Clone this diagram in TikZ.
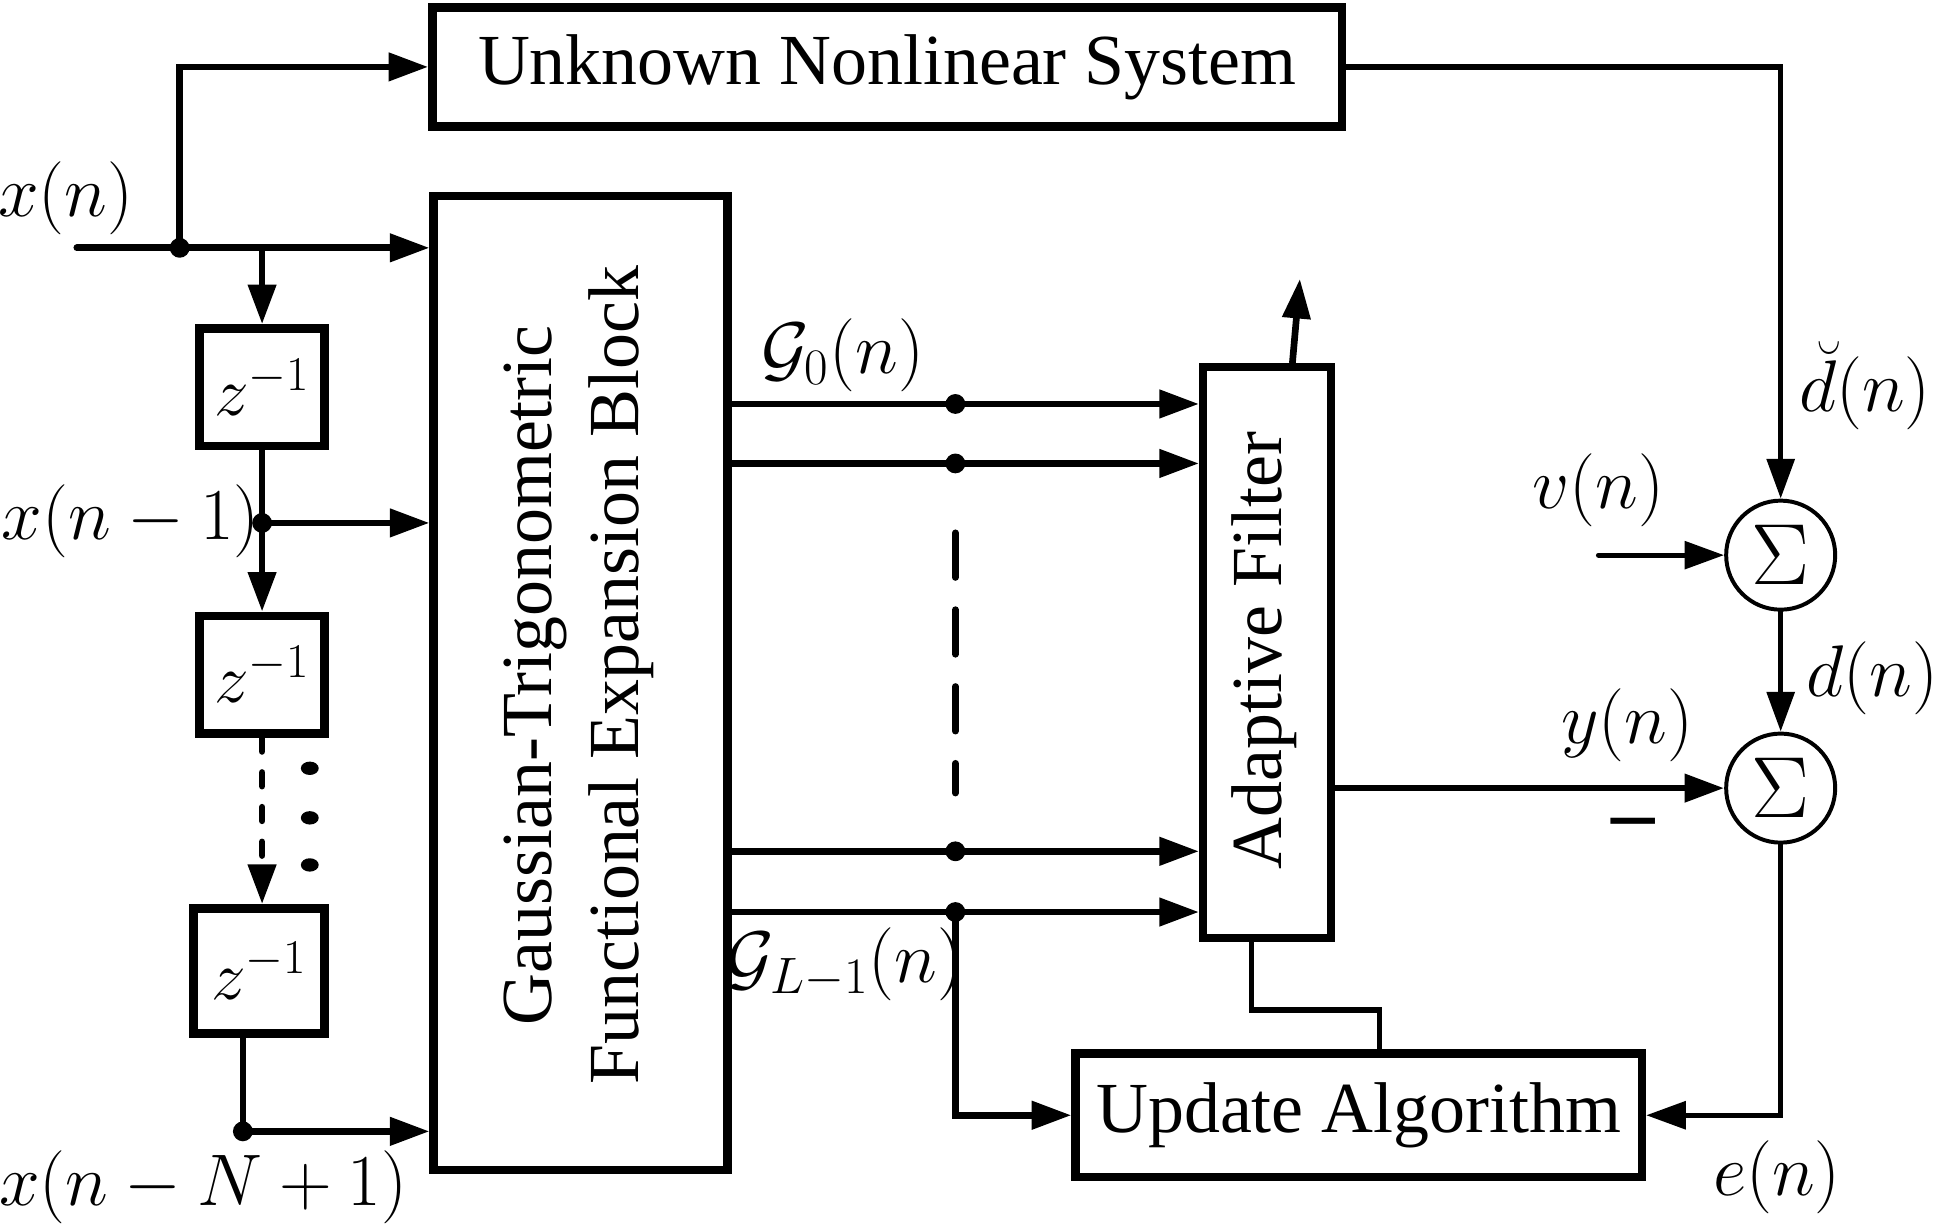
\RequirePackage{fix-cm}
\documentclass[tikz,border=0pt]{standalone}
\usepackage[no-math]{fontspec}
\setmainfont{Liberation Serif}
\usetikzlibrary{arrows.meta,calc}
\begin{document}
\begin{tikzpicture}[x=0.5pt,y=-0.5pt,
 box/.style={draw,line width=3.4pt,inner sep=0pt,font=\fontsize{29}{35}\selectfont},
 conn/.style={line width=2.7pt,line cap=round},
 conntwo/.style={line width=2.1pt,line cap=round},
 arr/.style={conn,-{Triangle[length=16pt,width=11pt]}},
 arrtwo/.style={conntwo,-{Triangle[length=16pt,width=11pt]}},
 jdot/.style={circle,fill,inner sep=0pt,minimum size=8pt},
 mlab/.style={font=\fontsize{29.5}{35}\selectfont,inner sep=0pt},
 rtext/.style={font=\fontsize{29}{35}\selectfont,rotate=90,align=center,inner sep=0pt},
 sumnode/.style={circle,draw,line width=1.6pt,minimum size=44pt,inner sep=0pt,font=\fontsize{35}{40}\selectfont}
]
\useasboundingbox (0,0) rectangle (1568,990);

% blocks
\node[box,minimum width=367pt,minimum height=48pt] (uns) at (716,54) {Unknown Nonlinear System};
\node[box,minimum width=118.5pt,minimum height=393pt] (gt) at (468.5,551) {};
\node[rtext] (gttext) at (467,545) {Gaussian-Trigonometric\\Functional Expansion Block};
\node[box,minimum width=50.5pt,minimum height=47.5pt,font=\fontsize{28}{34}\selectfont] (d1) at (211.5,312.5) {$z^{-1}$};
\node[box,minimum width=50.5pt,minimum height=47.5pt,font=\fontsize{28}{34}\selectfont] (d2) at (211.5,544.5) {$z^{-1}$};
\node[box,minimum width=53pt,minimum height=50.5pt,font=\fontsize{28}{34}\selectfont] (d3) at (209,783.5) {$z^{-1}$};
\node[box,minimum width=51.5pt,minimum height=230.5pt] (af) at (1022.5,526.5) {};
\node[rtext] (aftext) at (1020,525) {Adaptive Filter};
\node[box,minimum width=228.5pt,minimum height=50pt] (ua) at (1096.5,900) {Update Algorithm};
\node[sumnode] (s1) at (1437,448) {$\Sigma$};
\node[sumnode] (s2) at (1437,636) {$\Sigma$};

% input and tapped delay line
\coordinate (in) at (62,200);
\coordinate (j0) at (145,200);
\coordinate (j1) at (211.5,200);
\coordinate (j2) at (211.5,422);
\coordinate (j3) at (196,913);
\draw[arr] (in) -- (gt.west |- in);
\draw[arr] (j0) |- (uns.west);
\node[jdot] at (j0) {};
\draw[arr] (j1) -- (d1.north);
\draw[conn] (d1.south) -- (j2);
\draw[arr] (j2) -- (d2.north);
\draw[arr] (j2) -- (gt.west |- j2);
\node[jdot] at (j2) {};
\draw[arr,dash pattern=on 5.5pt off 8.5pt] (d2.south) -- (d2.south |- d3.north);
\draw[conn] (d3.south -| j3) -- (j3);
\draw[arr] (j3) -- (gt.west |- j3);
\node[jdot] at (j3) {};
\foreach \yy in {620,660,698} \fill (250,\yy) ellipse [x radius=3.6pt, y radius=2.7pt];

% expansion outputs
\foreach \yy [count=\i] in {326,374,687,736} {
  \coordinate (g\i) at (771,\yy);
  \draw[arr] (gt.east |- g\i) -- (af.west |- g\i);
  \node[jdot] at (g\i) {};
}
\draw[conn,dash pattern=on 18pt off 13pt] (771,430) -- (771,640);
\draw[arr] (g4) |- (ua.west);

% adaptive filter links
\coordinate (afo) at (1049,225);
\draw[arr] ($(af.north)+(20.5,0)$) -- (afo);
\coordinate (k1) at (1010,815);
\coordinate (k2) at (1113,815);
\draw[conntwo] ($(af.south)+(-12.5,0)$) -- (k1) -- (k2) -- (ua.north -| k2);
\draw[arr] (af.east |- s2) -- (s2.west);

% right side
\coordinate (vin) at (1290,448);
\draw[arrtwo] (uns.east) -| (s1.north);
\draw[arrtwo] (vin) -- (s1.west);
\draw[arrtwo] (s1.south) -- (s2.north);
\draw[arrtwo] (s2.south) |- (ua.east);

% labels
\node[mlab] (lxn) at (53,160) {$x(n)$};
\node[mlab,anchor=west] (lxn1) at (1,421) {$x(n-1)$};
\node[mlab] (lxnN) at (164,958) {$x(n-N+1)$};
\node[mlab] (lg0) at (680,287) {$\mathcal{G}_0(n)$};
\node[mlab] (lgL) at (682,778) {$\mathcal{G}_{L-1}(n)$};
\node[mlab] (ldb) at (1505,311) {$\breve{d}(n)$};
\node[mlab] (lv) at (1290,396) {$v(n)$};
\node[mlab] (ld) at (1511,547) {$d(n)$};
\node[mlab] (ly) at (1313,585) {$y(n)$};
\node[mlab] (le) at (1434,950) {$e(n)$};
\node[font=\fontsize{35}{40}\selectfont\bfseries,inner sep=0pt] (minus) at (1318,670) {–};
\end{tikzpicture}
\end{document}
